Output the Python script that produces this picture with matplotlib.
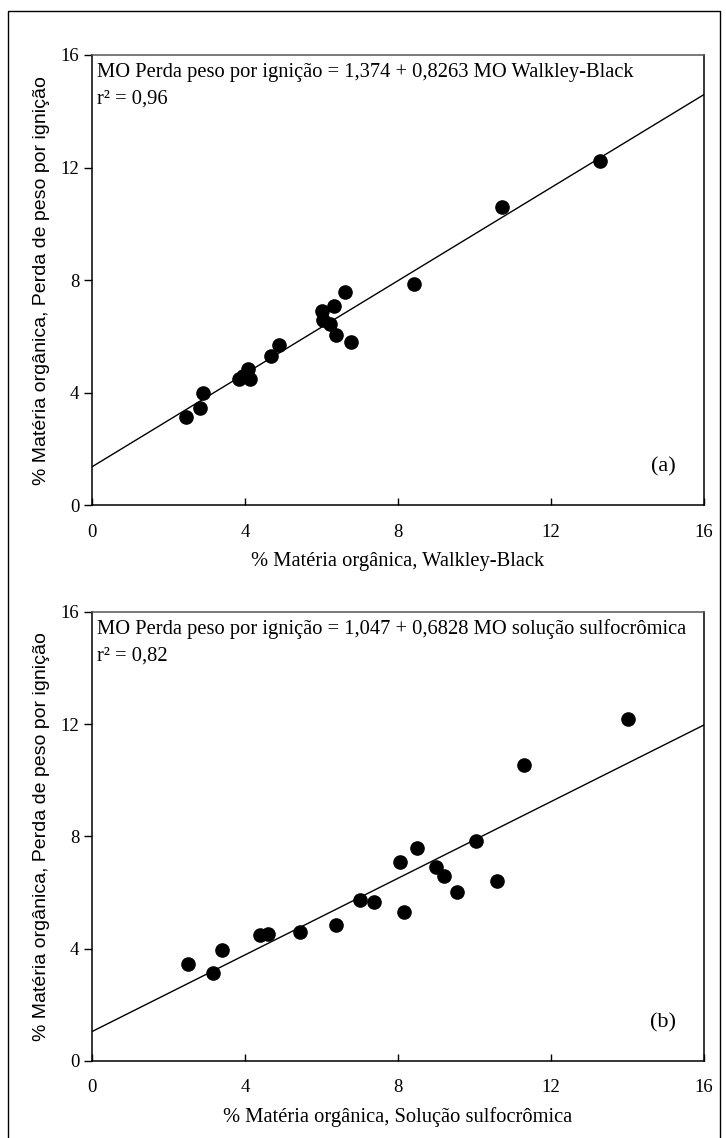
import matplotlib
matplotlib.use("Agg")
import matplotlib.pyplot as plt
import numpy as np

plt.rcParams["font.family"] = ["Liberation Serif", "DejaVu Serif"]

# (a) Walkley-Black vs loss on ignition
wb_x = [2.47, 2.82, 2.91, 3.85, 3.95, 4.09, 4.12, 4.69, 4.88, 6.02, 6.05, 6.21,
        6.34, 6.39, 6.61, 6.76, 8.43, 10.71, 13.29]
wb_y = [3.15, 3.45, 3.99, 4.50, 4.60, 4.86, 4.50, 5.32, 5.70, 6.91, 6.60, 6.43,
        7.10, 6.05, 7.59, 5.79, 7.85, 10.59, 12.23]
wb_fit = (1.374, 0.8263)

# (b) sulfochromic solution vs loss on ignition
sc_x = [2.52, 3.16, 3.40, 4.40, 4.61, 5.43, 6.38, 7.00, 7.38, 8.05, 8.17, 8.49,
        8.99, 9.21, 9.55, 10.04, 10.59, 11.30, 14.02]
sc_y = [3.45, 3.12, 3.96, 4.50, 4.51, 4.59, 4.83, 5.74, 5.65, 7.08, 5.31, 7.58,
        6.92, 6.58, 6.02, 7.84, 6.40, 10.56, 12.20]
sc_fit = (1.047, 0.6828)

ticks = [0, 4, 8, 12, 16]
ylabel = "% Matéria orgânica, Perda de peso por ignição"

panels = [
    (wb_x, wb_y, wb_fit, "% Matéria orgânica, Walkley-Black",
     "MO Perda peso por ignição = 1,374 + 0,8263 MO Walkley-Black", "r² = 0,96", "(a)",
     [0.1267, 0.5558, 0.843, 0.3959]),
    (sc_x, sc_y, sc_fit, "% Matéria orgânica, Solução sulfocrômica",
     "MO Perda peso por ignição = 1,047 + 0,6828 MO solução sulfocrômica", "r² = 0,82", "(b)",
     [0.1267, 0.0677, 0.843, 0.3946]),
]

fig = plt.figure(figsize=(7.26, 11.38), dpi=100)

# outer frame around the whole figure
fig.add_artist(plt.Line2D([8 / 726, 8 / 726, 720 / 726, 720 / 726],
                          [-0.01, 1 - 11 / 1138, 1 - 11 / 1138, -0.01],
                          transform=fig.transFigure, color="black", lw=1.0))

for xs, ys, (b0, b1), xlab, eq, r2, tag, pos in panels:
    ax = fig.add_axes(pos)
    xx = np.array([0, 16])
    ax.plot(xx, b0 + b1 * xx, color="black", lw=1.0)
    ax.plot(xs, ys, "o", color="black", ms=9.5, mec="black")
    ax.set_xlim(0, 16)
    ax.set_ylim(0, 16)
    ax.set_xticks(ticks)
    ax.set_yticks(ticks)
    ax.tick_params(axis="x", direction="in", length=5, width=1, pad=13, labelsize=13.5)
    ax.tick_params(axis="y", direction="out", length=6, width=1, pad=3, labelsize=13.5)
    for s in ax.spines.values():
        s.set_linewidth(1.1)
    ax.spines["top"].set_color("#555555")
    ax.set_xlabel(xlab, fontsize=14.8, labelpad=8)
    ax.set_ylabel(ylabel, family=["Liberation Sans", "DejaVu Sans"], fontsize=14, labelpad=8)
    ax.text(0.008, 0.962, eq, transform=ax.transAxes, fontsize=14.8, va="center", ha="left")
    ax.text(0.008, 0.902, r2, transform=ax.transAxes, fontsize=14.8, va="center", ha="left")
    ax.text(0.933, 0.085, tag, transform=ax.transAxes, fontsize=16, va="center", ha="center")

fig.savefig("out.png", dpi=100)
